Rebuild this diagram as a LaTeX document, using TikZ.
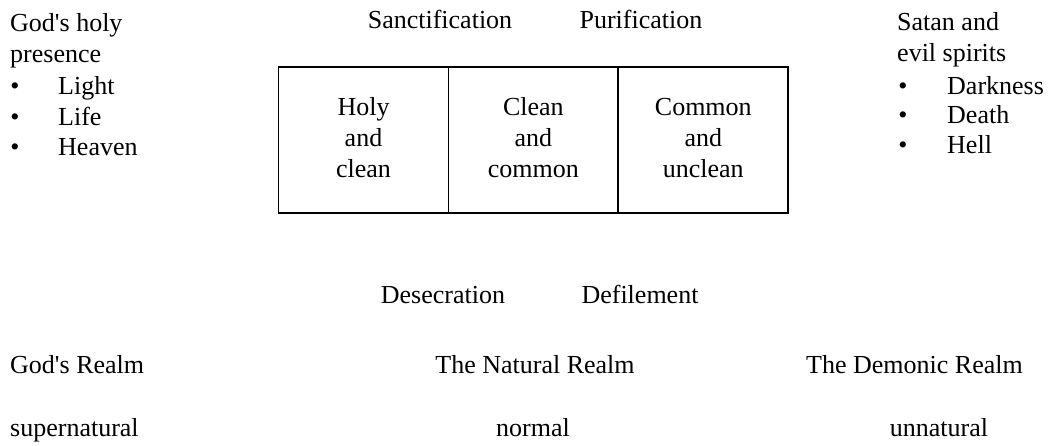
\documentclass[tikz,border=0pt]{standalone}
\usepackage{fontspec}
\setmainfont{Liberation Serif}[Ligatures=NoCommon]
\newfontfamily\timesfont{Liberation Serif}
\usetikzlibrary{positioning}

\begin{document}
\begin{tikzpicture}[x=1pt,y=-1pt,
  txt/.style={inner sep=0pt,font=\timesfont\fontsize{26}{31}\selectfont},
  cell/.style={minimum width=169.5pt,minimum height=146pt,
    align=center,inner sep=0pt,font=\timesfont\fontsize{26}{31}\selectfont}]
  \useasboundingbox (0,0) rectangle (1050,445);

  % the three states
  \node[cell] (holy) at (363.5,138) {Holy\\and\\clean};
  \node[cell,right=0pt of holy] (clean) {Clean\\and\\common};
  \node[cell,right=0pt of clean] (common) {Common\\and\\unclean};
  \draw[line width=1.8pt] ([yshift=-2pt]holy.north west) rectangle ([yshift=-2pt]common.south east);
  \draw[line width=1.8pt] ([yshift=-2pt]holy.north east) -- ([yshift=-2pt]holy.south east);
  \draw[line width=1.8pt] ([yshift=-2pt]clean.north east) -- ([yshift=-2pt]clean.south east);

  \node[txt,anchor=base] (sanct) at (440,28) {Sanctification};
  \node[txt,anchor=base] (purif) at (641,28) {Purification};
  \node[txt,anchor=base] (desec) at (443,303) {Desecration};
  \node[txt,anchor=base] (defil) at (640,303) {Defilement};

  % left side
  \node[txt,anchor=base west] (god1) at (10,31) {God\textquotesingle s holy};
  \node[txt,anchor=base west] (god2) at (10,62) {presence};
  \node[txt,anchor=base] (b1) at (15,94) {\textbullet};
  \node[txt,anchor=base west] (light) at (58,94) {Light};
  \node[txt,anchor=base] (b2) at (15,125) {\textbullet};
  \node[txt,anchor=base west] (life) at (58,125) {Life};
  \node[txt,anchor=base] (b3) at (15,155) {\textbullet};
  \node[txt,anchor=base west] (heaven) at (58,155) {Heaven};

  % right side
  \node[txt,anchor=base west] (satan1) at (897,30) {Satan and};
  \node[txt,anchor=base west] (satan2) at (897,61) {evil spirits};
  \node[txt,anchor=base] (b4) at (903,94) {\textbullet};
  \node[txt,anchor=base west] (dark) at (947,94) {Darkness};
  \node[txt,anchor=base] (b5) at (903,123) {\textbullet};
  \node[txt,anchor=base west] (death) at (947,123) {Death};
  \node[txt,anchor=base] (b6) at (903,153) {\textbullet};
  \node[txt,anchor=base west] (hell) at (947,153) {Hell};

  % realms
  \node[txt,anchor=base west] (godrealm) at (10,373) {God\textquotesingle s Realm};
  \node[txt,anchor=base] (natrealm) at (535,373) {The Natural Realm};
  \node[txt,anchor=base east] (demrealm) at (1023,373) {The Demonic Realm};
  \node[txt,anchor=base west] (super) at (10,436) {supernatural};
  \node[txt,anchor=base] (normal) at (533,436) {normal};
  \node[txt,anchor=base] (unnat) at (939,436) {unnatural};
\end{tikzpicture}
\end{document}
